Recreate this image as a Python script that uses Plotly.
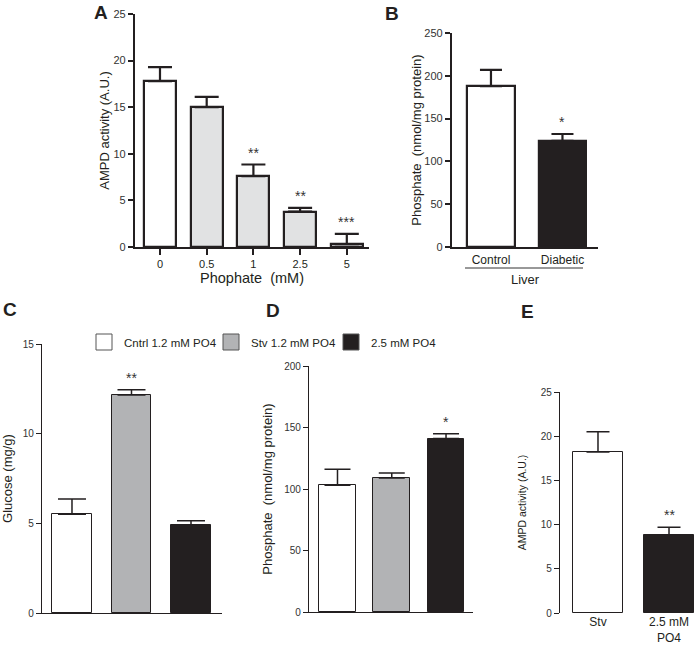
import plotly.graph_objects as go

W, H = 695, 648

# ---------------- data ----------------
a_cats = ["0", "0.5", "1", "2.5", "5"]
a_vals = [17.8, 15.0, 7.6, 3.8, 0.3]
a_errs = [1.5, 1.1, 1.25, 0.4, 1.1]
a_sig = ["", "", "**", "**", "***"]

b_cats = ["Control", "Diabetic"]
b_vals = [188, 124]
b_errs = [19, 8]
b_sig = ["", "*"]

legend_names = ["Cntrl 1.2 mM PO4", "Stv 1.2 mM PO4", "2.5 mM PO4"]
c_vals = [5.5, 12.15, 4.9]
c_errs = [0.85, 0.3, 0.25]
c_sig = ["", "**", ""]

d_vals = [103, 109, 141]
d_errs = [13, 4, 4]
d_sig = ["", "", "*"]

e_cats = ["Stv", "2.5 mM<br>PO4"]
e_vals = [18.2, 8.8]
e_errs = [2.3, 0.9]
e_sig = ["", "**"]

a_ticks = [0, 5, 10, 15, 20, 25]
b_ticks = [0, 50, 100, 150, 200, 250]
c_ticks = [0, 5, 10, 15]
d_ticks = [0, 50, 100, 150, 200]
e_ticks = [0, 5, 10, 15, 20, 25]

# ---------------- styling ----------------
FONT = "Liberation Sans, Arial, sans-serif"
TXT = "#231f20"
WHITE, GREY, BLACK, LGREY = "#ffffff", "#b2b3b5", "#231f20", "#e1e2e3"


def px_x(p):
    return p / W


def px_y(p):
    return 1 - p / H


fig = go.Figure()


def add_bars(xa, ya, cats, vals, errs, colors, lw, ew, ethick, width):
    for c, v, e, col in zip(cats, vals, errs, colors):
        fig.add_trace(go.Bar(
            x=[c], y=[v], xaxis=xa, yaxis=ya, width=width,
            marker=dict(color=col, line=dict(color=BLACK, width=lw)),
            error_y=dict(type="data", array=[e], arrayminus=[0], symmetric=False,
                         color=BLACK, thickness=ethick, width=ew),
            showlegend=False, name=c,
        ))


# Panel A
add_bars("x", "y", a_cats, a_vals, a_errs, [WHITE] + [LGREY] * 4, 2.2, 12, 2.2, 0.685)
# Panel B
add_bars("x2", "y2", b_cats, b_vals, b_errs, [WHITE, BLACK], 2.2, 11, 2.2, 0.67)
# Panel C
add_bars("x3", "y3", legend_names, c_vals, c_errs, [WHITE, GREY, BLACK], 1, 14, 1.5, 0.67)
# Panel D
add_bars("x4", "y4", legend_names, d_vals, d_errs, [WHITE, GREY, BLACK], 1, 13, 1.5, 0.68)
# Panel E
add_bars("x5", "y5", e_cats, e_vals, e_errs, [WHITE, BLACK], 1, 11.5, 1.5, 0.70)

# legend entries, each in its own legend so they can be placed independently
legend_keys = ["legend", "legend2", "legend3"]
for n, col, lk in zip(legend_names, [WHITE, GREY, BLACK], legend_keys):
    fig.add_trace(go.Scatter(
        x=[None], y=[None], mode="markers", name=n, xaxis="x3", yaxis="y3",
        marker=dict(symbol="square", size=17, color=col, line=dict(color="#555", width=1)),
        showlegend=True, legend=lk,
    ))

# significance stars (x given as category index)
for xa, ya, vals, errs, sig in [
    ("x", "y", a_vals, a_errs, a_sig),
    ("x2", "y2", b_vals, b_errs, b_sig),
    ("x3", "y3", c_vals, c_errs, c_sig),
    ("x4", "y4", d_vals, d_errs, d_sig),
    ("x5", "y5", e_vals, e_errs, e_sig),
]:
    for i, (v, e, s) in enumerate(zip(vals, errs, sig)):
        if s:
            fig.add_annotation(x=i, y=v + e, xref=xa, yref=ya, text=s, showarrow=False,
                               xanchor="center", yanchor="bottom", yshift=2,
                               font=dict(size=14, color="#333"))


def yaxis(dom, rng, ticks, title, tsize, lw, standoff, tickfont=11):
    return dict(domain=dom, range=rng, tickvals=ticks, showgrid=False, zeroline=False,
                showline=True, linecolor=BLACK, linewidth=lw, ticks="outside", ticklen=5,
                tickwidth=lw, tickcolor=BLACK, tickfont=dict(size=tickfont, color="#333"),
                title=dict(text=title, font=dict(size=tsize, color=TXT), standoff=standoff),
                automargin=False, fixedrange=True)


def xaxis(dom, rng, anchor, showline=True, lw=1.2, ticks="", showticklabels=True,
          title=None, tsize=13, tickfont=12):
    d = dict(domain=dom, range=rng, anchor=anchor, showgrid=False, zeroline=False,
             showline=showline, linecolor=BLACK, linewidth=lw, ticks=ticks, ticklen=6,
             tickwidth=lw, tickcolor=BLACK, showticklabels=showticklabels,
             tickfont=dict(size=tickfont, color=TXT), type="category",
             automargin=False, fixedrange=True)
    if title:
        d["title"] = dict(text=title, font=dict(size=tsize, color=TXT), standoff=0)
    return d


def legend_at(cx):
    return dict(orientation="h", x=px_x(cx - 20), y=px_y(342), xanchor="left",
                yanchor="middle", font=dict(size=11.5, color=TXT),
                bgcolor="rgba(0,0,0,0)", itemwidth=30)


fig.update_layout(
    width=W, height=H, margin=dict(l=0, r=0, t=0, b=0, autoexpand=False),
    paper_bgcolor="white", plot_bgcolor="white",
    font=dict(family=FONT, color=TXT),
    bargap=0,
    xaxis=xaxis([px_x(135), px_x(369)], [-0.535, 4.475], "y", lw=2.2, ticks="outside",
                title="Phophate  (mM)", tsize=14.5, tickfont=11),
    yaxis=yaxis([px_y(247), px_y(14)], [0, 25], a_ticks, "AMPD activity (A.U.)", 13, 2.2, 1),
    xaxis2=xaxis([px_x(452), px_x(598)], [-0.545, 1.497], "y2", lw=2.2, tickfont=12),
    yaxis2=dict(yaxis([px_y(247), px_y(33)], [0, 250], b_ticks,
                      "Phosphate  (nmol/mg protein)", 13, 2.2, 0), anchor="x2"),
    xaxis3=xaxis([px_x(42), px_x(222)], [-0.504, 2.521], "y3", lw=1.2, showticklabels=False),
    yaxis3=dict(yaxis([px_y(613), px_y(344)], [0, 15], c_ticks, "Glucose (mg/g)", 13, 1.2, 8,
                      tickfont=10), anchor="x3"),
    xaxis4=xaxis([px_x(309), px_x(473)], [-0.525, 2.497], "y4", lw=1.2, showticklabels=False),
    yaxis4=dict(yaxis([px_y(612), px_y(366)], [0, 200], d_ticks,
                      "Phosphate  (nmol/mg protein)", 13, 1.2, 8, tickfont=10), anchor="x4"),
    xaxis5=xaxis([px_x(560), 1.0], [-0.535, 1.366], "y5", showline=False, tickfont=12),
    yaxis5=dict(yaxis([px_y(613), px_y(392)], [0, 25], e_ticks, "AMPD activity (A.U.)", 10.5,
                      1.2, 12, tickfont=10), anchor="x5"),
    legend=legend_at(104),
    legend2=legend_at(231),
    legend3=legend_at(351),
)

# panel letters
for t, x, y in [("A", 101, 13), ("B", 392, 14), ("C", 10, 309), ("D", 273, 310), ("E", 527, 311)]:
    fig.add_annotation(x=px_x(x), y=px_y(y), xref="paper", yref="paper", text=f"<b>{t}</b>",
                       xanchor="center", yanchor="middle",
                       showarrow=False, font=dict(size=19, color=BLACK))

# Liver group line and label
fig.add_shape(type="line", xref="paper", yref="paper", x0=px_x(465), x1=px_x(583),
              y0=px_y(268), y1=px_y(268), line=dict(color="#333", width=1))
fig.add_annotation(x=px_x(525), y=px_y(279), xref="paper", yref="paper", text="Liver",
                   xanchor="center", yanchor="middle",
                   showarrow=False, font=dict(size=13, color=TXT))

fig.write_html("out.html", config={"displayModeBar": False},
               post_script="document.body.style.margin='0px';")
